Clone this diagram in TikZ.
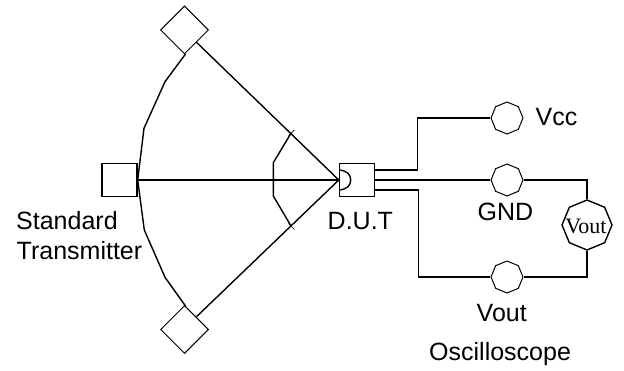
\documentclass[tikz,border=0pt]{standalone}
\usepackage{fontspec}
\setmainfont{Liberation Sans}
\newfontfamily\meterfont{Liberation Serif}
\usetikzlibrary{shapes.geometric}

\begin{document}
\begin{tikzpicture}[x=1pt,y=-1pt,line width=1.4pt,
                box node/.style={rectangle,draw,inner sep=0pt,minimum width=35pt,minimum height=33pt},
                horn node/.style={diamond,draw,line width=1pt,inner sep=0pt,minimum size=48pt},
                pin node/.style={regular polygon,regular polygon sides=8,shape border rotate=22.5,draw,line width=1pt,inner sep=0pt,minimum size=32pt},
                meter node/.style={regular polygon,regular polygon sides=8,shape border rotate=22.5,draw,inner sep=0pt,minimum size=50pt},
                label node/.style={anchor=base west,inner sep=0pt,font=\fontsize{25}{29}\selectfont}]

      \useasboundingbox (0,0) rectangle (624,371);

      \node[box node] (TX) at (119.5,180) {};
      \node[box node] (DUT) at (357,180) {};
      \node[horn node] (H1) at (184.5,30) {};
      \node[horn node] (H2) at (184.5,329.5) {};
      \node[pin node] (VCC) at (507,118) {};
      \node[pin node] (GND) at (507,180) {};
      \node[pin node] (OUT) at (507,277) {};
      \node[meter node] (M) at (587,225) {};
      \node[inner sep=0pt,font=\meterfont\fontsize{22}{24}\selectfont] (MT) at (586,226) {Vout};

      \node[label node] (L1) at (15.5,229.5) {Standard};
      \node[label node] (L2) at (16,259.5) {Transmitter};
      \node[label node] (L3) at (327,229.5) {D.U.T};
      \node[label node] (L4) at (535,125.5) {Vcc};
      \node[label node] (L5) at (477,220.5) {GND};
      \node[label node] (L6) at (476,321.5) {Vout};
      \node[label node] (L7) at (428.5,360) {Oscilloscope};

      % rays
      \coordinate (H1c) at (196.5,42.3);
      \coordinate (H2c) at (196.5,316.7);
      \draw (TX.east) -- (DUT.west);
      \draw (H1c) -- (DUT.west);
      \draw (H2c) -- (DUT.west);

      % big arc
      \draw (185.5,54) -- (165,81.7) -- (144,128.3) -- (TX.east) -- (144.3,230) -- (165,277.3) -- (185.5,306);

      % small arc
      \draw (291,133.3) -- (273.3,162.7) -- (273.3,196) -- (291,226);
      \draw[line width=.7pt] (288.5,135.5) -- (294.5,130);
      \draw[line width=.7pt] (288.5,223.5) -- (294.5,229.5);

      % sensor
      \draw (339.5,170) .. controls (347,171) and (350.5,174) .. (350.7,180)
            .. controls (350.5,186) and (347,189) .. (339.5,190);

      % wires
      \coordinate (D1) at (375,170);
      \coordinate (D3) at (375,190);
      \coordinate (C1) at (417.5,170);
      \coordinate (C2) at (417.5,118);
      \coordinate (C3) at (418.5,190);
      \coordinate (C4) at (418.5,277);
      \coordinate (C5) at (587,180);
      \coordinate (C6) at (587,277);
      \draw (D1) -- (C1) -- (C2) -- (VCC.west);
      \draw (DUT.east) -- (GND.west);
      \draw (D3) -- (C3) -- (C4) -- (OUT.west);
      \draw (GND.east) -- (C5) -- (M.north);
      \draw (M.south) -- (C6) -- (OUT.east);
\end{tikzpicture}
\end{document}
